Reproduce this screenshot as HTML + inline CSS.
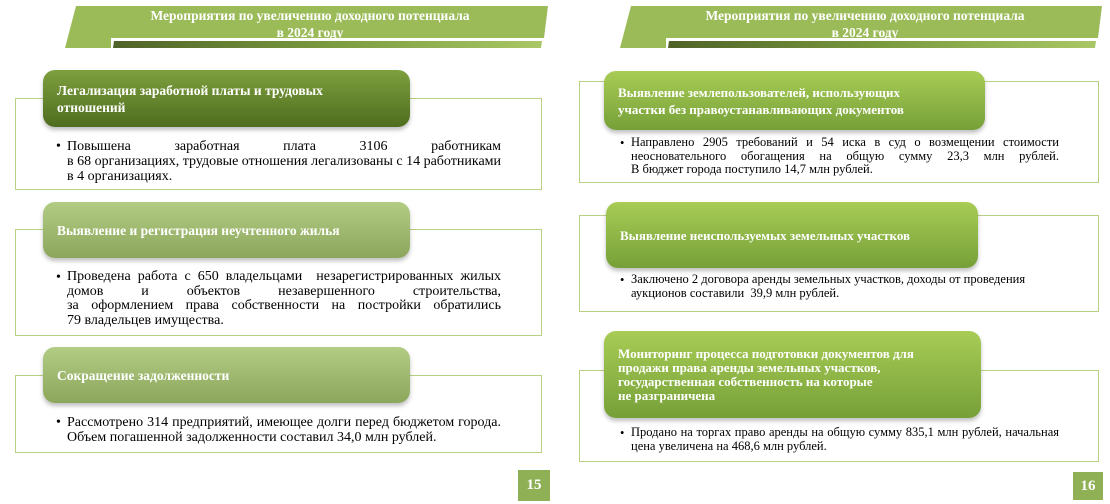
<!DOCTYPE html>
<html><head><meta charset="utf-8"><style>
*{margin:0;padding:0;box-sizing:border-box}
body{width:1110px;height:504px;background:#fff;position:relative;overflow:hidden;font-family:"Liberation Serif",serif}
.abs{position:absolute}
.out{position:absolute;border:1.5px solid #b8d083;background:#fff}
.pill{position:absolute;border-radius:12px;color:#fff;font-weight:bold;box-shadow:0 3px 4px rgba(0,0,0,.25);display:flex;align-items:center;padding-left:14px;line-height:17px}
.dark{background:linear-gradient(#7d9f3e,#4f6d1f)}
.light{background:linear-gradient(#b2cc84,#8ca75c)}
.bright{background:linear-gradient(#a8cc55,#76a038)}
.txt{position:absolute;color:#000}
.txt div{white-space:nowrap}
.j{text-align:justify;text-align-last:justify;white-space:normal!important}
.b{position:absolute;color:#000}
.pn{position:absolute;background:#8fb054;color:#fff;font-weight:bold;font-size:15px;display:flex;align-items:center;justify-content:center}
.title{position:absolute;color:#fff;font-weight:bold;font-size:13.5px;text-align:center;line-height:17px}
</style></head><body>
<svg class="abs" style="left:0;top:0" width="1110" height="60">
<defs><linearGradient id="g" x1="0" x2="1"><stop offset="0" stop-color="#4f6228"/><stop offset="0.5" stop-color="#7a9a3e"/><stop offset="1" stop-color="#a9c766"/></linearGradient></defs>
<polygon points="76,6 548,6 544,38 111,38 111,48 65,48" fill="#9bbb59"/>
<polygon points="114,41 542,41 541,48 113,48" fill="url(#g)"/>
<polygon points="631,6 1102,6 1098,38 666,38 666,48 620,48" fill="#9bbb59"/>
<polygon points="669,41 1096,41 1095,48 668,48" fill="url(#g)"/>
</svg>
<div class="title" style="left:110px;top:7px;width:400px">Мероприятия по увеличению доходного потенциала<br>в 2024 году</div>
<div class="title" style="left:665px;top:7px;width:400px">Мероприятия по увеличению доходного потенциала<br>в 2024 году</div>

<!-- left -->
<div class="out" style="left:15px;top:98px;width:527px;height:92px"></div>
<div class="pill dark" style="left:43px;top:70px;width:367px;height:57px;font-size:13.5px">Легализация заработной платы и трудовых<br>отношений</div>
<div class="b" style="left:56px;top:139px;font-size:14px">•</div>
<div class="txt" style="left:67px;top:139px;width:434px;font-size:14px;line-height:15px">
<div class="j">Повышена заработная плата 3106 работникам</div>
<div class="j">в 68 организациях, трудовые отношения легализованы с 14 работниками</div>
<div>в 4 организациях.</div></div>

<div class="out" style="left:15px;top:229px;width:527px;height:107px"></div>
<div class="pill light" style="left:43px;top:202px;width:367px;height:56px;font-size:13.5px">Выявление и регистрация неучтенного жилья</div>
<div class="b" style="left:56px;top:270px;font-size:14px">•</div>
<div class="txt" style="left:67px;top:270px;width:434px;font-size:14px;line-height:14.5px">
<div class="j">Проведена работа с 650 владельцами&nbsp; незарегистрированных жилых</div>
<div class="j">домов и объектов незавершенного строительства,</div>
<div class="j">за оформлением права собственности на постройки обратились</div>
<div>79 владельцев имущества.</div></div>

<div class="out" style="left:15px;top:375px;width:527px;height:78px"></div>
<div class="pill light" style="left:43px;top:347px;width:367px;height:56px;font-size:13.5px">Сокращение задолженности</div>
<div class="b" style="left:56px;top:415px;font-size:14px">•</div>
<div class="txt" style="left:67px;top:415px;width:434px;font-size:14px;line-height:15px">
<div class="j">Рассмотрено 314 предприятий, имеющее долги перед бюджетом города.</div>
<div>Объем погашенной задолженности составил 34,0 млн рублей.</div></div>
<div class="pn" style="left:518px;top:470px;width:32px;height:31px">15</div>

<!-- right -->
<div class="out" style="left:579px;top:81px;width:520px;height:102px"></div>
<div class="pill bright" style="left:604px;top:71px;width:381px;height:59px;font-size:13px">Выявление землепользователей, использующих<br>участки без правоустанавливающих документов</div>
<div class="b" style="left:620px;top:136px;font-size:12.5px">•</div>
<div class="txt" style="left:631px;top:136px;width:428px;font-size:12.5px;line-height:13.5px">
<div class="j">Направлено 2905 требований и 54 иска в суд о возмещении стоимости</div>
<div class="j">неосновательного обогащения на общую сумму 23,3 млн рублей.</div>
<div>В бюджет города поступило 14,7 млн рублей.</div></div>

<div class="out" style="left:579px;top:215px;width:520px;height:97px"></div>
<div class="pill bright" style="left:606px;top:202px;width:372px;height:66px;font-size:13px">Выявление неиспользуемых земельных участков</div>
<div class="b" style="left:620px;top:273px;font-size:12.5px">•</div>
<div class="txt" style="left:631px;top:273px;width:428px;font-size:12.5px;line-height:13.5px">
<div>Заключено 2 договора аренды земельных участков, доходы от проведения</div>
<div>аукционов составили&nbsp; 39,9 млн рублей.</div></div>

<div class="out" style="left:579px;top:370px;width:520px;height:92px"></div>
<div class="pill bright" style="left:604px;top:331px;width:377px;height:87px;font-size:13px;line-height:14px">Мониторинг процесса подготовки документов для<br>продажи права аренды земельных участков,<br>государственная собственность на которые<br>не разграничена</div>
<div class="b" style="left:620px;top:426px;font-size:12.5px">•</div>
<div class="txt" style="left:631px;top:426px;width:428px;font-size:12.5px;line-height:13.5px">
<div class="j">Продано на торгах право аренды на общую сумму 835,1 млн рублей, начальная</div>
<div>цена увеличена на 468,6 млн рублей.</div></div>
<div class="pn" style="left:1073px;top:472px;width:30px;height:28px">16</div>
</body></html>
